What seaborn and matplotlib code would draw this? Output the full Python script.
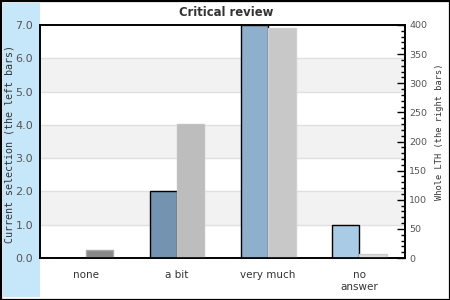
import matplotlib
matplotlib.use('Agg')
import matplotlib.pyplot as plt
import seaborn as sns
import pandas as pd
from matplotlib.patches import Rectangle
from matplotlib.ticker import MultipleLocator, FormatStrFormatter

categories = ['none', 'a bit', 'very much', 'no\nanswer']
current_values = [0.0, 2.0, 7.0, 1.0]
lth_values = [14, 230, 394, 7]
left_colors = ['#6a8aa8', '#7393b0', '#8fb0cc', '#aacbe6']
right_colors = ['#888888', '#bdbdbd', '#c8c8c8', '#dcdcdc']
right_edges = ['#aaaaaa', '#c2c2c2', '#d0d0d0', '#cccccc']
title = 'Critical review'
left_label = 'Current selection (the left bars)'
right_label = 'Whole LTH (the right bars)'

sns.set_style('white')
fig = plt.figure(figsize=(4.5, 3.0), dpi=100)
fig.patch.set_facecolor('white')
# light blue strip on the left
fig.patches.append(Rectangle((3/450, 3/300), 37/450, 294/300, transform=fig.transFigure,
                             facecolor='#c6e6fa', edgecolor='none', zorder=-2))
fig.patches.append(Rectangle((0.5/450, 0.5/300), 449/450, 299/300, transform=fig.transFigure,
                             facecolor='none', edgecolor='black', linewidth=1.6, zorder=5))

ax = fig.add_axes([40/450, 42/300, 365/450, 233/300])
ax.set_facecolor('white')

df_left = pd.DataFrame({'cat': categories, 'val': current_values, 'side': 'left'})
df_right = pd.DataFrame({'cat': categories, 'val': lth_values, 'side': 'right'})

sns.barplot(data=df_left, x='cat', y='val', hue='side', hue_order=['left', 'right'],
            order=categories, ax=ax, width=0.6, dodge=True, legend=False, errorbar=None)
for p, c in zip(list(ax.patches), left_colors):
    p.set_facecolor(c)
    p.set_edgecolor('black')
    p.set_linewidth(1.0)
    p.set_zorder(3)

# bands and grid
for lo in [1, 3, 5]:
    ax.axhspan(lo, lo + 1, facecolor='#f2f2f2', edgecolor='none', zorder=0)
for y in range(1, 7):
    ax.axhline(y, color='#e0e0e0', linewidth=1.0, zorder=1)

ax.set_ylim(0, 7)
ax.yaxis.set_major_locator(MultipleLocator(1))
ax.yaxis.set_major_formatter(FormatStrFormatter('%.1f'))
ax.tick_params(axis='y', length=0, pad=5, labelsize=8, labelcolor='#555555')
ax.tick_params(axis='x', length=0, pad=9, labelsize=7.5, labelcolor='#333333')
ax.set_xlabel('')
ax.set_ylabel(left_label, family='DejaVu Sans Mono', fontsize=7.2, color='#333333')
ax.yaxis.set_label_coords(-25/365, 0.49)
for s in ax.spines.values():
    s.set_color('black')
    s.set_linewidth(1.2)

ax2 = ax.twinx()
sns.barplot(data=df_right, x='cat', y='val', hue='side', hue_order=['left', 'right'],
            order=categories, ax=ax2, width=0.6, dodge=True, legend=False, errorbar=None)
for p, c, e in zip(list(ax2.patches), right_colors, right_edges):
    p.set_facecolor(c)
    p.set_edgecolor(e)
    p.set_linewidth(1.0)
ax2.set_ylim(0, 400)
ax2.yaxis.set_major_locator(MultipleLocator(50))
ax2.yaxis.set_minor_locator(MultipleLocator(10))
ax2.tick_params(axis='y', which='major', direction='in', length=6, width=1, pad=3,
                labelsize=6.8, labelcolor='#555555', color='black')
ax2.tick_params(axis='y', which='minor', direction='in', length=3, width=1, color='black')
ax2.set_xlabel('')
ax2.set_ylabel(right_label, family='DejaVu Sans Mono', fontsize=6.2, color='#333333',
               rotation=90)
ax2.yaxis.set_label_coords(1 + 30/365, 0.543)
for s in ax2.spines.values():
    s.set_color('black')
    s.set_linewidth(1.2)
ax.set_xlim(-0.5, 3.5)
ax2.set_xlim(-0.5, 3.5)

fig.text(226/450, 1 - 12/300, title, ha='center', va='center', fontsize=8.4,
         fontweight='bold', color='#333333')

fig.savefig('out.png', dpi=100)
